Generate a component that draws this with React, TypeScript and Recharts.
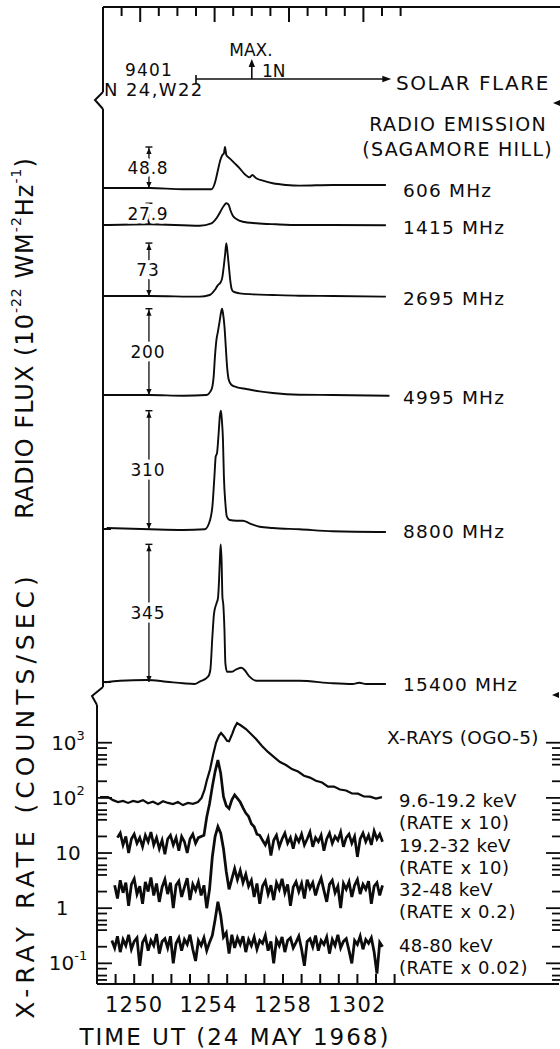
import React from "react";
import { LineChart, Line, XAxis, YAxis, ReferenceLine, ReferenceDot } from "recharts";

const INK = "#0c0c0c";
const FONT = "'DejaVu Sans', Verdana, sans-serif";

// ---- time axis (minutes after 12:00 UT) ----
const MINUTE_TICKS = [49, 50, 51, 52, 53, 54, 55, 56, 57, 58, 59, 60, 61, 62, 63, 64];
const MAJOR_MINUTES = [50, 54, 58, 62];
const TIME_LABELS = ["1250", "1254", "1258", "1302"];

// flare 9401: start, maximum, end
const FLARE_TIMES = [53, 56, 63.5];

// ---- radio emission, Sagamore Hill (flux above pre-flare level) ----
const RADIO_BANDS = ["606 MHz", "1415 MHz", "2695 MHz", "4995 MHz", "8800 MHz", "15400 MHz"];
const RADIO_PEAKS = [48.8, 27.9, 73, 200, 310, 345];
const DIM_ARROW_T = 50.47;

const T_606 = [48.28, 50.52, 52.31, 53.83, 54.01, 54.1, 54.18, 54.31, 54.42, 54.5, 54.56, 54.63, 54.81, 55.08, 55.35, 55.61, 55.88, 56.03, 56.11, 56.24, 56.6, 57.13, 57.85, 58.56, 60.35, 63.21];
const F_606 = [0, 0, -1.5, -1.5, 5.6, 13.5, 21.4, 33.3, 39.3, 41.3, 48.8, 39.3, 35.3, 29.4, 23.4, 16.7, 12.7, 15.5, 14.3, 11.5, 8.7, 5.6, 3.6, 2.8, 3.6, 3.6];

const T_1415 = [48.28, 50.52, 53.2, 53.83, 54.1, 54.31, 54.49, 54.63, 54.76, 54.86, 54.99, 55.17, 55.52, 56.24, 57.31, 58.56, 60.35, 63.21];
const F_1415 = [0, 0.9, -0.9, 2.2, 8.6, 17.1, 24.4, 27.9, 25.6, 18.3, 11.5, 7.7, 4.2, 2.2, 0.9, 0, 0, -0.4];

const T_2695 = [48.28, 50.52, 53.2, 53.74, 54.01, 54.18, 54.31, 54.42, 54.49, 54.56, 54.63, 54.7, 54.77, 54.84, 54.91, 55.01, 55.35, 56.06, 57.13, 58.56, 60.35, 63.21];
const F_2695 = [0, 0, -0.9, 1.4, 8.2, 15.1, 18.2, 26.4, 40.1, 56.2, 73, 58.5, 40.1, 21.9, 10.5, 5.9, 3.7, 2.3, 1.4, 0.4, 0, -0.9];

const T_4995 = [48.2, 50.52, 52.31, 53.56, 53.83, 53.95, 54.02, 54.1, 54.18, 54.27, 54.34, 54.4, 54.45, 54.53, 54.6, 54.67, 54.76, 54.9, 55.17, 55.71, 56.42, 57.13, 58.56, 60.35, 63.4];
const F_4995 = [0, 0, -1.6, 0, 12.3, 43.1, 89.4, 128.1, 147.3, 170.5, 190, 200, 190, 159, 112.6, 66.3, 35.5, 23.9, 18.5, 13.9, 8.3, 4.6, 0.7, 0, -1.6];

const T_8800 = [48.2, 50.52, 52.31, 53.47, 53.7, 53.88, 53.99, 54.06, 54.13, 54.18, 54.23, 54.28, 54.34, 54.39, 54.45, 54.5, 54.58, 54.66, 54.81, 55.17, 55.52, 55.88, 56.42, 57.13, 58.56, 60.35, 63.21];
const F_8800 = [2.6, -0.8, -2.6, -0.8, 15, 58.6, 137.4, 189.9, 198.7, 225, 260, 295, 310, 285.6, 233.1, 137.4, 67.4, 32.3, 23.6, 21.8, 21.8, 15, 6, 2.6, -0.8, -6, -7.9];

const T_15400 = [48.11, 48.91, 50.34, 51.41, 52.31, 52.93, 53.2, 53.65, 53.77, 53.88, 53.97, 54.1, 54.18, 54.24, 54.29, 54.33, 54.38, 54.42, 54.47, 54.53, 54.58, 54.67, 54.9, 55.17, 55.44, 55.61, 55.88, 56.24, 57.13, 58.56, 60.35, 61.42, 61.78, 62.14, 63.21];
const F_15400 = [-0.8, 3.3, 5, 0.8, -3.3, -5, 0.8, 13.3, 30.1, 113.5, 172, 197, 209.5, 255.6, 314, 345, 297.5, 213.8, 193, 130.3, 46.6, 25.6, 25.6, 31.8, 35.8, 30.1, 13.3, 3.3, 3.3, 3.3, -3.3, -5, -1.8, -5, -5];

const RADIO_TIMES = [T_606, T_1415, T_2695, T_4995, T_8800, T_15400];
const RADIO_FLUX = [F_606, F_1415, F_2695, F_4995, F_8800, F_15400];

// ---- X-rays, OGO-5 (counts/sec, already multiplied by the rate factors) ----
const XRAY_BANDS = ["9.6-19.2 keV", "19.2-32 keV", "32-48 keV", "48-80 keV"];
const XRAY_FACTORS = ["(RATE x 10)", "(RATE x 10)", "(RATE x 0.2)", "(RATE x 0.02)"];

const SOFT_T = [48.16, 48.59, 48.86, 49.13, 49.4, 49.67, 49.94, 50.2, 50.47, 50.74, 51.01, 51.28, 51.55, 51.82, 52.09, 52.35, 52.62, 52.89, 53.16, 53.43, 53.62, 53.78, 53.91, 54.08, 54.24, 54.4, 54.56, 54.67, 54.83, 54.99, 55.1, 55.27, 55.4, 55.53, 55.74, 56.01, 56.28, 56.55, 56.87, 57.19, 57.52, 57.84, 58.16, 58.48, 58.81, 59.13, 59.45, 59.77, 60.1, 60.42, 60.74, 61.06, 61.39, 61.71, 62.03, 62.35, 62.68, 63.0, 63.32];
const RATE_9_19 = [103, 103, 91, 84, 88, 81, 88, 84, 91, 80, 85, 77, 87, 81, 77, 84, 74, 81, 78, 84, 100, 140, 210, 330, 600, 1000, 1350, 1500, 1300, 1080, 1060, 1450, 1900, 2280, 2050, 1770, 1440, 1170, 870, 680, 550, 447, 394, 333, 300, 252, 233, 205, 190, 160, 160, 142, 136, 120, 119, 106, 105, 97, 103];

const XRAY_T = [
  48.8, 48.95, 49.1, 49.25, 49.4, 49.55, 49.7, 49.85, 50.0, 50.15,
  50.3, 50.45, 50.6, 50.75, 50.9, 51.05, 51.2, 51.35, 51.5, 51.65,
  51.8, 51.95, 52.1, 52.25, 52.4, 52.55, 52.7, 52.85, 53.0, 53.15,
  53.3, 53.45, 53.6, 53.75, 53.9, 54.05, 54.2, 54.35, 54.5, 54.65,
  54.8, 54.95, 55.1, 55.25, 55.4, 55.55, 55.7, 55.85, 56.0, 56.15,
  56.3, 56.45, 56.6, 56.75, 56.9, 57.05, 57.2, 57.35, 57.5, 57.65,
  57.8, 57.95, 58.1, 58.25, 58.4, 58.55, 58.7, 58.85, 59.0, 59.15,
  59.3, 59.45, 59.6, 59.75, 59.9, 60.05, 60.2, 60.35, 60.5, 60.65,
  60.8, 60.95, 61.1, 61.25, 61.4, 61.55, 61.7, 61.85, 62.0, 62.15,
  62.3, 62.45, 62.6, 62.75, 62.9, 63.05, 63.2, 63.35,
];
const RATE_19_32 = [
  null, null,
  19, 23, 14, 20, 10, 18, 22, 15, 19, 13, 21, 16, 24, 14, 19, 12, 17, 9.5, 18, 21, 14, 19, 11, 20, 16, 10, 18, 22, 15, 19, 20, 21,
  45, 78, 160, 300, 485, 280, 105, 72, 64, 92, 113, 98, 84, 66, 53, 46, 34, 30, 22, 21, 17,
  14, 19, 9, 17, 21, 13, 18, 23, 15, 19, 12, 20, 16, 22, 14, 18, 24, 13, 19, 16, 21, 11, 18, 23, 15, 20, 17, 24, 13, 19, 22, 15, 20, 8.5, 18, 23, 16, 21, 14, 25, 18, 22, 16,
];
const RATE_32_48 = [
  null,
  2.6, 1.5, 3.2, 1.9, 2.9, 1.1, 2.7, 3.4, 1.8, 2.5, 1.2, 3.0, 2.0, 3.6, 1.7, 2.8, 1.3, 2.4, 3.3, 1.8, 2.9, 1.0, 2.6, 3.1, 1.6, 2.4, 3.5, 1.4, 2.7, 2.1, 3.0, 1.7, 2.6,
  1.0, 2.2, 8.5, 20, 30, 23, 12, 4.6, 2.2, 3.4, 5.2, 3.3, 4.8, 2.9, 4.1, 2.5,
  3.2, 1.6, 2.8, 1.2, 2.5, 3.1, 1.8, 2.6, 1.4, 2.9, 2.2, 3.4, 1.9, 2.7, 1.1, 2.4, 3.0, 2.0, 2.8, 1.5, 3.3, 2.3, 2.9, 1.7, 2.6, 3.5, 2.1, 1.3, 2.7, 3.2, 1.9, 2.5, 1.0, 2.8, 2.2, 3.0, 1.6, 2.6, 3.3, 1.8, 2.7, 2.2, 3.1, 1.2, 2.5, 2.9, 1.7, 2.6,
];
const RATE_48_80 = [
  0.26, 0.19, 0.31, 0.16, 0.27, 0.21, 0.33, 0.18, 0.25, 0.29, 0.09, 0.24, 0.3, 0.17, 0.26, 0.21, 0.34, 0.15, 0.25, 0.28, 0.19, 0.31, 0.1, 0.23, 0.29, 0.17, 0.27, 0.22, 0.33, 0.18, 0.11, 0.26, 0.21, 0.29, 0.17, 0.24,
  0.32, 0.62, 1.31, 0.74, 0.3,
  0.36, 0.15, 0.33, 0.19, 0.29, 0.22, 0.31, 0.16, 0.27, 0.21, 0.3, 0.18, 0.26, 0.23, 0.32, 0.17, 0.25, 0.1, 0.27, 0.21, 0.3, 0.16, 0.26, 0.29, 0.19, 0.24, 0.31, 0.18, 0.09, 0.25, 0.28, 0.2, 0.32, 0.17, 0.26, 0.22, 0.3, 0.15, 0.27, 0.21, 0.33, 0.19, 0.25, 0.28, 0.17, 0.1, 0.26, 0.22, 0.31, 0.18, 0.27, 0.23, 0.29, 0.16, 0.065, 0.24, 0.2,
];

const DECADES = [0.1, 1, 10, 100, 1000];
const DECADE_BASE = ["10", "1", "10", "10", "10"];
const DECADE_EXP = ["-1", "", "", "2", "3"];
const MINOR_TICKS = [0.05, 0.06, 0.08, 0.2, 0.4, 0.5, 0.6, 0.8, 2, 4, 5, 6, 8, 20, 40, 50, 60, 80, 200, 400, 500, 600, 800];
const LOG_TICKS = [...MINOR_TICKS, ...DECADES].sort((a, b) => a - b);

// ---- layout ----
const W = 560;
const H = 1049;
const PX_PER_MIN = 18.6;
const RADIO_BOX = { left: 103, top: 7, bottom: 697 };
const XRAY_BOX = { left: 97, top: 697, bottom: 984, right: 559 };
const LOG_DOMAIN = [0.0422, 6745];
const FLARE_LINE_Y = 79;
// baseline row (px) and vertical scale (px per flux unit) of each radio trace
const RADIO_ROWS = [
  { base: 188, scale: 0.84 },
  { base: 225, scale: 0.78 },
  { base: 296, scale: 0.725 },
  { base: 395, scale: 0.4315 },
  { base: 529, scale: 0.3816 },
  { base: 682, scale: 0.399 },
];

const toPoints = (ts: number[], vs: (number | null)[]) =>
  ts.map((t, i) => ({ t, v: vs[i] })).filter((p) => p.v !== null);

const TopTick = (p: any) => {
  const major = MAJOR_MINUTES.includes(p.payload.value);
  return <line x1={p.x} x2={p.x} y1={p.y} y2={p.y + (major ? 15 : 9)} stroke={INK} strokeWidth={2} />;
};

const BottomTick = (p: any) => {
  const i = MAJOR_MINUTES.indexOf(p.payload.value);
  return (
    <g>
      <line x1={p.x} x2={p.x} y1={p.y} y2={p.y - 10} stroke={INK} strokeWidth={2} />
      {i >= 0 && (
        <text x={p.x} y={p.y + 21} textAnchor="middle" dominantBaseline="central" fontSize={21} letterSpacing={1.2} fontFamily={FONT} fill={INK}>
          {TIME_LABELS[i]}
        </text>
      )}
    </g>
  );
};

const BaseTick = (p: any) => <line x1={p.x} x2={p.x + 8} y1={p.y} y2={p.y} stroke={INK} strokeWidth={2} />;

const LogTickLeft = (p: any) => {
  const v = p.payload.value;
  const i = DECADES.indexOf(v);
  return (
    <g>
      <line x1={p.x} x2={p.x + (i >= 0 ? 15 : 10)} y1={p.y} y2={p.y} stroke={INK} strokeWidth={1.8} />
      {i >= 0 && (
        <text x={p.x - (v === 1 ? 35 : 29)} y={p.y} textAnchor="middle" dominantBaseline="central" fontSize={20} fontFamily={FONT} fill={INK}>
          {DECADE_BASE[i]}
          {DECADE_EXP[i] && <tspan dy={-8} fontSize={13}>{DECADE_EXP[i]}</tspan>}
        </text>
      )}
    </g>
  );
};

const LogTickRight = (p: any) => {
  const major = DECADES.includes(p.payload.value);
  return <line x1={p.x + 1} x2={p.x + 1 - (major ? 14 : 8)} y1={p.y} y2={p.y} stroke={INK} strokeWidth={1.8} />;
};

const BarArrowTop = (p: any) => (
  <g fill={INK}>
    <line x1={p.cx - 3.5} x2={p.cx + 3.5} y1={p.cy} y2={p.cy} stroke={INK} strokeWidth={1.4} />
    <path d={`M${p.cx} ${p.cy + 1}l-2.6 6h5.2z`} />
  </g>
);
const ArrowDownTip = (p: any) => <path d={`M${p.cx} ${p.cy}l-2.6 -6h5.2z`} fill={INK} />;
const ArrowUpTip = (p: any) => <path d={`M${p.cx} ${p.cy}l-3.2 8h6.4z`} fill={INK} />;
const ArrowRightTip = (p: any) => <path d={`M${p.cx} ${p.cy}l-9 -3.3v6.6z`} fill={INK} />;

const valueLabel = (text: string) => (p: any) => (
  <text x={p.cx - 1} y={p.cy} textAnchor="middle" dominantBaseline="central" fontSize={17} letterSpacing={0.8}
    fontFamily={FONT} fill={INK} stroke="#fff" strokeWidth={7} strokeLinejoin="round" paintOrder="stroke">
    {text}
  </text>
);

function RadioChart() {
  const right = 48 + (W - RADIO_BOX.left) / PX_PER_MIN;
  // "frame" axis counts pixels upward from the flare line; it carries the
  // left border, the baseline ticks of the radio traces and the flare marks
  const frameTicks = RADIO_ROWS.map((r) => FLARE_LINE_Y - r.base);
  return (
    <LineChart width={W} height={H} margin={{ top: RADIO_BOX.top - 1, right: 0, bottom: H - RADIO_BOX.bottom, left: RADIO_BOX.left - 1 }}>
      <XAxis type="number" dataKey="t" orientation="top" domain={[48, right]} allowDataOverflow ticks={MINUTE_TICKS} interval={0}
        height={1} tickSize={0} tickMargin={0} tickLine={false} tick={TopTick} axisLine={{ stroke: INK, strokeWidth: 2 }} />
      <YAxis yAxisId="frame" type="number" width={1} allowDataOverflow
        domain={[-(RADIO_BOX.bottom - FLARE_LINE_Y), FLARE_LINE_Y - RADIO_BOX.top]}
        ticks={frameTicks} interval={0} tickSize={0} tickMargin={0} tickLine={false} tick={BaseTick}
        axisLine={{ stroke: INK, strokeWidth: 2 }} />
      {RADIO_ROWS.map((row, i) => (
        <YAxis key={i} yAxisId={`r${i}`} type="number" hide allowDataOverflow
          domain={[-(RADIO_BOX.bottom - row.base) / row.scale, (row.base - RADIO_BOX.top) / row.scale]} />
      ))}

      {/* flare duration and maximum */}
      <ReferenceLine yAxisId="frame" segment={[{ x: FLARE_TIMES[0], y: 0 }, { x: FLARE_TIMES[2] - 0.3, y: 0 }]} stroke={INK} strokeWidth={1.6} />
      <ReferenceLine yAxisId="frame" segment={[{ x: FLARE_TIMES[0], y: -4 }, { x: FLARE_TIMES[0], y: 4 }]} stroke={INK} strokeWidth={1.6} />
      <ReferenceLine yAxisId="frame" segment={[{ x: FLARE_TIMES[1], y: 0 }, { x: FLARE_TIMES[1], y: 15 }]} stroke={INK} strokeWidth={1.6} />
      <ReferenceDot yAxisId="frame" x={FLARE_TIMES[1]} y={20} shape={ArrowUpTip} />
      <ReferenceDot yAxisId="frame" x={FLARE_TIMES[2]} y={0} shape={ArrowRightTip} />

      {RADIO_ROWS.map((_, i) => (
        <React.Fragment key={i}>
          <ReferenceLine yAxisId={`r${i}`} segment={[{ x: DIM_ARROW_T, y: 0 }, { x: DIM_ARROW_T, y: RADIO_PEAKS[i] }]} stroke={INK} strokeWidth={1.3} />
          <ReferenceDot yAxisId={`r${i}`} x={DIM_ARROW_T} y={RADIO_PEAKS[i]} shape={BarArrowTop} />
          <ReferenceDot yAxisId={`r${i}`} x={DIM_ARROW_T} y={0} shape={ArrowDownTip} />
          <ReferenceDot yAxisId={`r${i}`} x={DIM_ARROW_T} y={RADIO_PEAKS[i] / 2} shape={valueLabel(String(RADIO_PEAKS[i]))} />
          <Line yAxisId={`r${i}`} data={toPoints(RADIO_TIMES[i], RADIO_FLUX[i])} dataKey="v" type="monotone"
            stroke={INK} strokeWidth={1.9} dot={false} activeDot={false} isAnimationActive={false} />
        </React.Fragment>
      ))}
    </LineChart>
  );
}

function XrayChart() {
  const right = 48 + (XRAY_BOX.right - XRAY_BOX.left) / PX_PER_MIN;
  const series = [
    { pts: toPoints(SOFT_T, RATE_9_19), w: 2.2 },
    { pts: toPoints(XRAY_T, RATE_19_32), w: 2.7 },
    { pts: toPoints(XRAY_T, RATE_32_48), w: 2.8 },
    { pts: toPoints(XRAY_T, RATE_48_80), w: 2.8 },
  ];
  return (
    <LineChart width={W} height={H}
      margin={{ top: XRAY_BOX.top, right: W - XRAY_BOX.right - 1, bottom: H - XRAY_BOX.bottom - 1, left: XRAY_BOX.left - 1 }}>
      <XAxis type="number" dataKey="t" domain={[48, right]} allowDataOverflow ticks={MINUTE_TICKS} interval={0}
        height={1} tickSize={0} tickMargin={0} tickLine={false} tick={BottomTick} axisLine={{ stroke: INK, strokeWidth: 2 }} />
      <YAxis yAxisId="log" type="number" scale="log" domain={LOG_DOMAIN} allowDataOverflow width={1}
        ticks={LOG_TICKS} interval={0} tickSize={0} tickMargin={0} tickLine={false} tick={LogTickLeft}
        axisLine={{ stroke: INK, strokeWidth: 2 }} />
      <YAxis yAxisId="logR" orientation="right" type="number" scale="log" domain={LOG_DOMAIN} allowDataOverflow width={1}
        ticks={LOG_TICKS} interval={0} tickSize={0} tickMargin={0} tickLine={false} tick={LogTickRight} axisLine={false} />
      {series.map((s, i) => (
        <Line key={i} yAxisId="log" data={s.pts} dataKey="v" type="linear" stroke={INK} strokeWidth={s.w}
          dot={false} activeDot={false} isAnimationActive={false} />
      ))}
    </LineChart>
  );
}

const XRAY_LABEL_Y = [800, 845, 889, 945];

function Annotations() {
  const t = { fontFamily: FONT, fill: INK, dominantBaseline: "central" as const };
  return (
    <svg width={W} height={H} style={{ position: "absolute", left: 0, top: 0 }}>
      {/* axis breaks */}
      <rect x={98} y={92} width={9} height={17} fill="#fff" />
      <path d="M103 92 L95 100 L103 109" fill="none" stroke={INK} strokeWidth={2} />
      <rect x={90} y={687} width={18} height={18} fill="#fff" />
      <path d="M103 687 L92 696 L97 705" fill="none" stroke={INK} strokeWidth={2} />
      <path d="M553 103 l7 -3 v6 z" fill={INK} />
      <path d="M552 695 l7 -3 v6 z" fill={INK} />

      {/* flare */}
      <text x={125} y={70} fontSize={17} letterSpacing={1.2} {...t}>9401</text>
      <text x={104} y={89} fontSize={18} letterSpacing={1.4} {...t}>N 24,W22</text>
      <text x={251} y={50} fontSize={17} textAnchor="middle" {...t}>MAX.</text>
      <text x={262} y={71} fontSize={17} {...t}>1N</text>
      <text x={396} y={83} fontSize={20} letterSpacing={1.5} {...t}>SOLAR FLARE</text>

      {/* radio */}
      <text x={547} y={124} fontSize={19} letterSpacing={1.3} textAnchor="end" {...t}>RADIO EMISSION</text>
      <text x={553} y={149} fontSize={19} letterSpacing={1.3} textAnchor="end" {...t}>(SAGAMORE HILL)</text>
      {RADIO_BANDS.map((b, i) => (
        <text key={b} x={403} y={RADIO_ROWS[i].base + 2} fontSize={18.5} letterSpacing={1.2} {...t}>{b}</text>
      ))}

      {/* x-rays */}
      <text x={387} y={737} fontSize={18.5} letterSpacing={0.3} {...t}>X-RAYS (OGO-5)</text>
      {XRAY_BANDS.map((b, i) => (
        <g key={b}>
          <text x={399} y={XRAY_LABEL_Y[i]} fontSize={18} letterSpacing={0.3} {...t}>{b}</text>
          <text x={399} y={XRAY_LABEL_Y[i] + 22} fontSize={18} letterSpacing={0.6} {...t}>{XRAY_FACTORS[i]}</text>
        </g>
      ))}

      {/* axis titles */}
      <text x={235} y={1037} fontSize={23} letterSpacing={2} textAnchor="middle" {...t}>TIME UT (24 MAY 1968)</text>
      <text transform="rotate(-90 25 338)" x={25} y={338} fontSize={24} letterSpacing={1} textAnchor="middle" {...t}>
        RADIO FLUX (10<tspan dy={-9} fontSize={14}>-22</tspan><tspan dy={9}> WM</tspan>
        <tspan dy={-9} fontSize={14}>-2</tspan><tspan dy={9}>Hz</tspan><tspan dy={-9} fontSize={14}>-1</tspan><tspan dy={9}>)</tspan>
      </text>
      <text transform="rotate(-90 25 795)" x={25} y={795} fontSize={25} letterSpacing={5} textAnchor="middle" {...t}>
        X-RAY RATE (COUNTS/SEC)
      </text>
    </svg>
  );
}

export default function App() {
  return (
    <div style={{ position: "absolute", left: 0, top: 0, width: W, height: H, background: "#fff", overflow: "hidden" }}>
      <div style={{ position: "absolute", left: 0, top: 0 }}>
        <RadioChart />
      </div>
      <div style={{ position: "absolute", left: 0, top: 0 }}>
        <XrayChart />
      </div>
      <Annotations />
    </div>
  );
}
